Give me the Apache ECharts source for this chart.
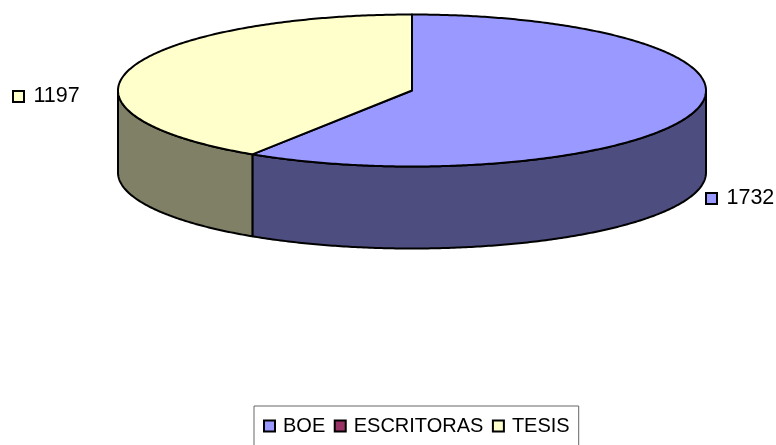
<!DOCTYPE html>
<html>
<head>
<meta charset="utf-8">
<style>html,body{margin:0;padding:0;background:#fff}#c{width:776px;height:445px}</style>
<script src="https://cdn.jsdelivr.net/npm/echarts@6/dist/echarts.min.js"></script>
</head>
<body>
<div id="c"></div>
<script>
const categories = ['BOE', 'ESCRITORAS', 'TESIS'];
const values = [1732, 0, 1197];
const topColors = ['#9999FF', '#993366', '#FFFFCC'];
const wallColors = ['#4D4D80', '#4D1A33', '#808066'];

// Projection of the 3D pie
const cx = 412, cy = 90.5, rx = 294, ry = 76, depth = 82;
const total = values.reduce((a, b) => a + b, 0);
const starts = values.map((_, i) => values.slice(0, i).reduce((a, b) => a + b, 0));
const font = '"Liberation Sans", Arial, sans-serif';
const labelPos = { 0: [706, 193], 2: [13, 91] };

function pt(t, dy) {
  return [cx + rx * Math.sin(t), cy - ry * Math.cos(t) + (dy || 0)];
}
function arc(a, b, dy) {
  const n = Math.max(2, Math.ceil(Math.abs(b - a) / 0.01));
  const out = [];
  for (let k = 0; k <= n; k++) out.push(pt(a + (b - a) * k / n, dy));
  return out;
}
const lineStyle = { stroke: '#000', lineWidth: 2, lineJoin: 'round' };

function makeRender(i) {
  return function (params, api) {
    const v = api.value(0);
    if (!v) return { type: 'group', children: [] };
    const a = starts[i] / total * 2 * Math.PI;
    const b = (starts[i] + v) / total * 2 * Math.PI;
    const children = [];
    const wa = Math.max(a, Math.PI / 2), wb = Math.min(b, 3 * Math.PI / 2);
    if (wb > wa) {
      const pts = arc(wa, wb, 0).concat(arc(wb, wa, depth));
      children.push({ type: 'polygon', shape: { points: pts },
        style: Object.assign({ fill: wallColors[i] }, lineStyle) });
    }
    children.push({ type: 'polygon', shape: { points: [[cx, cy]].concat(arc(a, b, 0)) },
      style: Object.assign({ fill: topColors[i] }, lineStyle) });
    const p = labelPos[i];
    children.push({ type: 'rect', shape: { x: p[0], y: p[1], width: 11, height: 11 },
      style: { fill: topColors[i], stroke: '#000', lineWidth: 2 } });
    children.push({ type: 'text', x: p[0] + 20.5, y: p[1] + 5.5,
      style: { text: String(v), font: '21.5px ' + font, fill: '#000',
        textAlign: 'left', textVerticalAlign: 'middle' } });
    return { type: 'group', children };
  };
}

const chart = echarts.init(document.getElementById('c'), null, { renderer: 'canvas' });
chart.setOption({
  animation: false,
  backgroundColor: '#fff',
  legend: {
    data: categories,
    left: 254, top: 406,
    padding: [10, 9, 20, 9],
    itemWidth: 11, itemHeight: 11, itemGap: 8.5,
    icon: 'rect',
    borderColor: '#666', borderWidth: 1,
    itemStyle: { borderColor: '#000', borderWidth: 2 },
    textStyle: { color: '#000', fontFamily: font, fontSize: 20, padding: [0, 0, 0, 3] }
  },
  series: categories.map((name, i) => ({
    type: 'custom',
    name,
    coordinateSystem: 'none',
    silent: true,
    itemStyle: { color: topColors[i] },
    renderItem: makeRender(i),
    data: [[values[i]]]
  }))
});
</script>
</body>
</html>
